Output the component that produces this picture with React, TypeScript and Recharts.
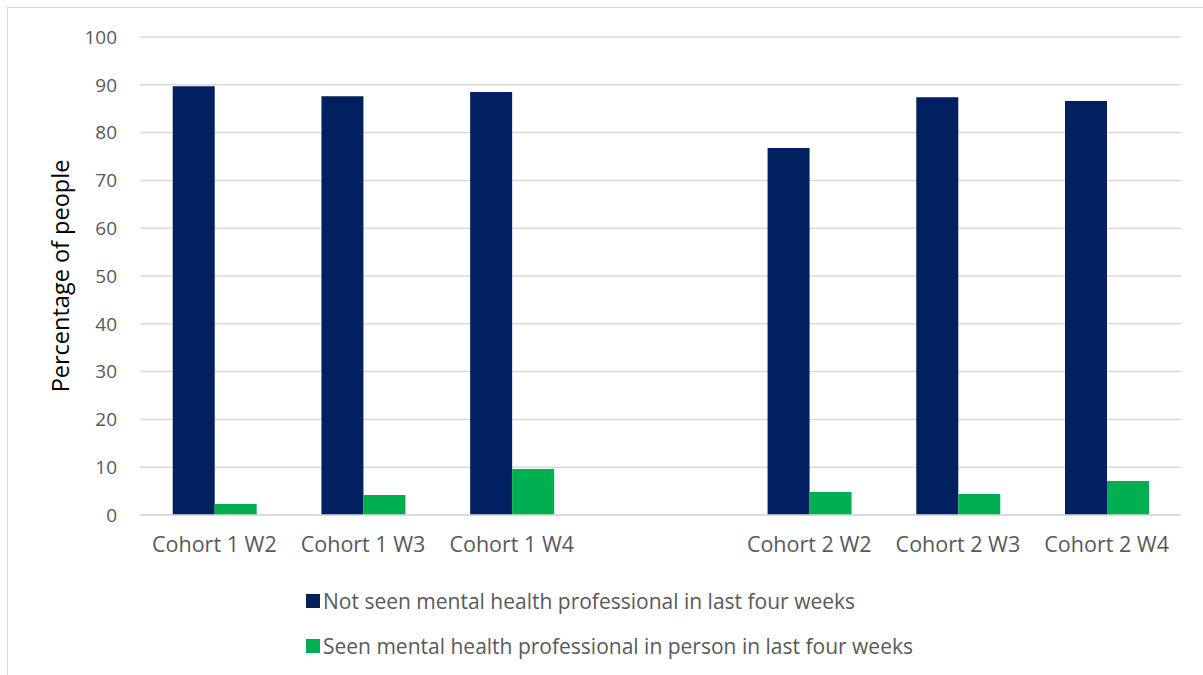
import React from 'react';
import { BarChart, Bar, XAxis, YAxis, CartesianGrid, Legend } from 'recharts';

const categories = ['Cohort 1 W2', 'Cohort 1 W3', 'Cohort 1 W4', '', 'Cohort 2 W2', 'Cohort 2 W3', 'Cohort 2 W4'];
const notSeen = [89.7, 87.6, 88.5, null, 76.8, 87.4, 86.6];
const seenInPerson = [2.3, 4.2, 9.6, null, 4.8, 4.4, 7.1];
const yTicks = [0, 10, 20, 30, 40, 50, 60, 70, 80, 90, 100];

const NAVY = '#002060';
const GREEN = '#00B050';
const FONT = '"Open Sans", sans-serif';

const data = categories.map((name, i) => ({
  name,
  notSeen: notSeen[i],
  seen: seenInPerson[i],
}));

const YLabel = (props: any) => {
  const { viewBox } = props;
  const cy = viewBox.y + viewBox.height / 2;
  return (
    <text
      x={60}
      y={cy}
      transform={`rotate(-90, 60, ${cy})`}
      textAnchor="middle"
      dominantBaseline="central"
      fill="#000"
      fontSize={23.5}
      fontFamily={FONT}
    >
      Percentage of people
    </text>
  );
};

const LegendBox = (props: any) => {
  const { payload } = props;
  return (
    <div style={{ fontFamily: FONT, fontSize: 21, color: '#595959' }}>
      {payload.map((entry: any) => (
        <div key={entry.value} style={{ display: 'flex', alignItems: 'center', height: 45 }}>
          <span style={{ width: 14, height: 14, background: entry.color, marginRight: 3 }} />
          <span>{entry.value}</span>
        </div>
      ))}
    </div>
  );
};

export default function App() {
  return (
    <div style={{ position: 'absolute', left: 0, top: 0, width: 1203, height: 675, background: '#fff', overflow: 'hidden' }}>
      <div
        style={{
          position: 'absolute',
          left: 7,
          top: 7,
          width: 1220,
          height: 700,
          border: '1px solid #d9d9d9',
        }}
      />
      <BarChart
        width={1203}
        height={675}
        data={data}
        margin={{ top: 37, right: 22, left: 0, bottom: 120 }}
        barCategoryGap="22%"
        barGap={0}
      >
        <CartesianGrid vertical={false} stroke="#d9d9d9" strokeWidth={1.5} />
        <XAxis
          dataKey="name"
          height={40}
          tickLine={false}
          tickSize={0}
          tickMargin={22}
          axisLine={{ stroke: '#d9d9d9', strokeWidth: 1.5 }}
          tick={{ fill: '#595959', fontSize: 21.5, fontFamily: FONT }}
          interval={0}
        />
        <YAxis
          width={140}
          domain={[0, 100]}
          ticks={yTicks}
          tickLine={false}
          axisLine={false}
          tickSize={0}
          tickMargin={23}
          tick={{ fill: '#595959', fontSize: 19, fontFamily: FONT }}
          label={<YLabel />}
        />
        <Legend
          layout="vertical"
          align="center"
          verticalAlign="middle"
          content={<LegendBox />}
          wrapperStyle={{ left: 306, top: 578, width: 720 }}
        />
        <Bar
          dataKey="notSeen"
          name="Not seen mental health professional in last four weeks"
          fill={NAVY}
          isAnimationActive={false}
        />
        <Bar
          dataKey="seen"
          name="Seen mental health professional in person in last four weeks"
          fill={GREEN}
          isAnimationActive={false}
        />
      </BarChart>
    </div>
  );
}
